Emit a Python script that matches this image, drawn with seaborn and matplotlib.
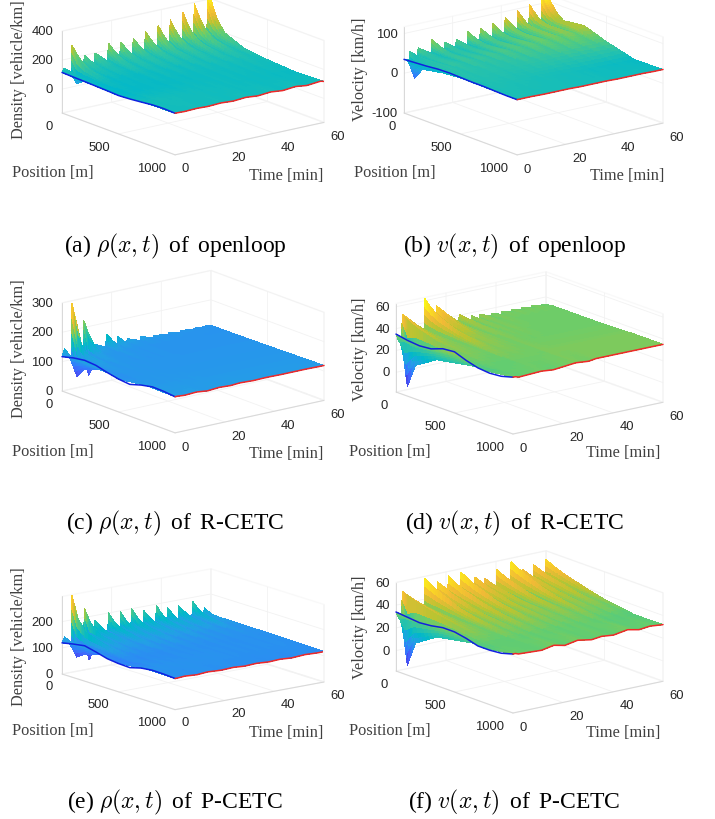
"""Six traffic surfaces: density and velocity under openloop, R-CETC and P-CETC."""

import matplotlib.pyplot as plt
import numpy as np
import seaborn as sns
from mpl_toolkits.mplot3d import proj3d

POS_ROWS = [0, 50, 120, 300, 500, 750, 1000]
BLUE_POS = [0, 100, 200, 300, 400, 500, 600, 700, 800, 900, 1000]
POS_TICKS = [0, 500, 1000]
TIME_TICKS = [0, 20, 40, 60]

# parula anchors
PARULA = ["#3e26a8", "#4741e5", "#4560fc", "#2f81fa", "#23a0e5", "#01b8ca", "#2cc3a7",
          "#64cd6f", "#b9c431", "#f0ba36", "#fad724", "#f9fb15"]

# panel (a)
t_a = [0, 1, 3.7, 4, 8.6, 9, 13, 13.3, 18.3, 18.7, 23.2, 23.6, 28.3, 28.7, 33.2, 33.6, 38.3, 38.7, 43.2, 43.6, 48.3, 48.7, 52.9, 53.3, 58.3, 58.7, 60]
rho_open = [
    [115, 141, 90, 289, 125, 200, 125, 199, 125, 247, 128, 235, 130, 244, 132, 274, 135, 295, 138, 315, 140, 350, 145, 389, 150, 414, 395],
    [114, 131, 40, 219, 120, 166, 120, 165, 120, 194, 122, 187, 124, 193, 126, 211, 128, 223, 130, 235, 132, 256, 135, 279, 140, 294, 283],
    [110, 120, 75, 164, 115, 140, 116, 140, 118, 155, 120, 152, 122, 155, 124, 165, 126, 172, 128, 178, 130, 190, 132, 203, 135, 211, 200],
    [107, 106, 100, 119, 106, 113, 108, 116, 109, 124, 112, 127, 114, 131, 116, 134, 118, 138, 120, 141, 122, 146, 124, 151, 126, 155, 140],
    [100, 103, 100, 108, 105, 108, 107, 110, 107, 113, 110, 115, 112, 117, 113, 119, 115, 121, 116, 123, 117, 125, 119, 127, 121, 129, 123],
    [118, 124, 122, 126, 122, 124, 121, 123, 119, 122, 118, 121, 117, 120, 116, 119, 115, 118, 114, 117, 113, 116, 112, 115, 111, 114, 110],
    [122, 122, 120, 120, 123, 123, 120, 120, 124, 124, 119, 119, 125, 125, 118, 118, 125, 125, 117, 117, 125, 125, 116, 116, 124, 124, 118],
]
blue_a = [115, 112, 110, 107, 104, 100, 105, 113, 122, 125, 122]

# panel (b)
t_b = [0, 1, 2, 2.3, 5.5, 5.8, 11.2, 11.5, 16.4, 16.7, 21.2, 21.5, 26, 26.3, 31.1, 31.4, 36.3, 36.6, 41.3, 41.6, 46.5, 46.8, 51.3, 51.6, 56.5, 56.8, 60]
vel_open = [
    [35, 34, 25, 52, 36, 56, 36, 70, 36, 56, 36, 57, 37, 69, 38, 72, 40, 76, 42, 86, 45, 95, 48, 104, 52, 117, 105],
    [36, 36, -10, 47, 36, 50, 36, 59, 36, 49, 36, 50, 37, 58, 38, 60, 39, 62, 41, 69, 43, 75, 45, 81, 48, 90, 82],
    [39, 39, 20, 44, 38, 45, 38, 49, 38, 46, 38, 47, 39, 51, 40, 53, 41, 56, 43, 62, 45, 67, 47, 71, 50, 74, 65],
    [43, 43, 30, 46, 42, 47, 42, 49, 43, 49, 44, 51, 45, 54, 46, 56, 48, 59, 50, 62, 52, 65, 54, 68, 57, 73, 72],
    [41, 41, 35, 43, 41, 43, 42, 44, 42, 44, 43, 45, 44, 47, 45, 48, 46, 49, 47, 51, 48, 52, 49, 53, 50, 54, 52],
    [40, 40, 38, 40, 40, 40, 39, 40, 39, 39, 38, 39, 38, 38, 37, 38, 36, 37, 35, 36, 35, 35, 34, 35, 34, 34, 33],
    [39, 39, 39, 39, 39, 39, 38, 38, 38, 38, 38, 38, 37, 37, 37, 37, 37, 37, 36, 36, 36, 36, 36, 36, 35, 35, 35],
]
blue_b = [35, 37, 39, 42, 43, 42, 41, 41, 40, 39, 39]

# panel (c)
t_c = [0, 1, 3.7, 4, 8.5, 8.8, 13, 13.3, 17.6, 17.9, 22.2, 22.5, 26, 26.3, 31.4, 31.7, 36.7, 37, 42.7, 43, 47.7, 48, 52.7, 53, 57.7, 58, 60]
rho_r = [
    [117, 143, 100, 292, 120, 223, 118, 135, 116, 160, 115, 144, 115, 130, 114, 127, 114, 122, 113, 120, 113, 118, 113, 116, 113, 115, 112],
    [122, 125, 50, 190, 45, 160, 118, 125, 115, 135, 114, 125, 115, 120, 114, 118, 114, 116, 114, 115, 114, 114, 114, 114, 113, 113, 113],
    [128, 118, 85, 135, 112, 125, 116, 117, 114, 120, 114, 116, 114, 115, 114, 114, 114, 114, 114, 114, 114, 114, 113, 113, 113, 113, 113],
    [130, 116, 108, 120, 114, 118, 115, 116, 114, 116, 114, 115, 114, 115, 114, 114, 114, 114, 114, 114, 114, 114, 114, 114, 114, 114, 114],
    [112, 113, 112, 115, 115, 116, 115, 116, 115, 115, 115, 115, 115, 115, 115, 115, 115, 115, 115, 115, 115, 115, 115, 115, 115, 115, 115],
    [125, 120, 119, 118, 117, 118, 117, 118, 117, 118, 117, 117, 117, 117, 117, 117, 117, 117, 117, 117, 117, 117, 117, 117, 117, 117, 117],
    [123, 123, 121, 121, 123, 123, 119, 119, 122, 122, 120, 120, 122, 122, 120, 120, 121, 121, 120, 120, 120, 120, 120, 120, 119, 119, 119],
]
blue_c = [117, 127, 133, 130, 120, 112, 108, 120, 128, 127, 123]

# panel (d)
t_d = [0, 1, 2.2, 2.5, 11.2, 11.5, 15.9, 16.2, 25, 25.3, 30, 30.3, 33.3, 33.6, 38, 38.3, 42, 42.3, 46, 46.3, 50, 50.3, 54, 54.3, 58, 58.3, 60]
vel_r = [
    [35, 28, 27, 52, 33, 62, 34, 53, 33, 41, 33, 37, 33, 37, 33, 35, 33, 35, 33, 35, 33, 35, 33, 35, 33, 34, 33],
    [34, 30, -12, 48, 33, 56, 34, 49, 33, 40, 33, 37, 33, 37, 33, 35, 34, 35, 34, 35, 34, 35, 34, 35, 34, 34, 34],
    [33, 28, 10, 44, 33, 50, 34, 44, 33, 38, 33, 36, 34, 35, 34, 35, 34, 34, 34, 34, 34, 34, 34, 34, 34, 34, 34],
    [33, 30, 22, 38, 34, 42, 36, 38, 34, 36, 34, 35, 34, 35, 34, 34, 34, 34, 34, 34, 34, 34, 34, 34, 34, 34, 34],
    [38, 33, 26, 36, 34, 37, 35, 36, 34, 35, 34, 34, 34, 34, 34, 34, 34, 34, 34, 34, 34, 34, 34, 34, 34, 34, 34],
    [31, 31, 31, 33, 33, 34, 34, 34, 34, 35, 35, 35, 35, 35, 35, 35, 35, 35, 35, 35, 35, 35, 35, 35, 35, 35, 35],
    [34, 34, 33, 33, 34, 34, 33, 33, 35, 35, 34, 34, 35, 35, 35, 35, 35, 35, 35, 35, 35, 35, 35, 35, 35, 35, 35],
]
blue_d = [35, 33, 32, 33, 37, 38, 34, 31, 30, 31, 34]

# panel (e)
t_e = [0, 1, 3.7, 4, 8.7, 9, 13, 13.3, 18.4, 18.7, 23.3, 23.6, 27.7, 28, 32.7, 33, 37.7, 38, 42.2, 42.5, 46.7, 47, 52.3, 52.6, 57, 57.3, 60]
rho_p = [
    [119, 140, 100, 292, 120, 235, 120, 182, 120, 201, 120, 196, 120, 201, 120, 183, 120, 196, 120, 179, 120, 177, 120, 186, 118, 154, 118],
    [124, 130, 65, 215, 45, 190, 122, 160, 122, 172, 122, 165, 122, 170, 122, 160, 122, 165, 122, 155, 120, 155, 120, 160, 120, 138, 120],
    [130, 130, 85, 170, 125, 155, 124, 148, 124, 155, 124, 150, 124, 153, 124, 147, 124, 150, 123, 145, 123, 145, 122, 148, 121, 133, 122],
    [125, 122, 108, 140, 120, 132, 120, 130, 120, 133, 120, 132, 120, 133, 120, 129, 120, 131, 120, 127, 120, 127, 120, 128, 120, 124, 121],
    [108, 110, 106, 118, 114, 118, 116, 118, 116, 120, 118, 120, 118, 121, 118, 120, 118, 121, 118, 120, 118, 120, 119, 121, 119, 120, 120],
    [121, 121, 120, 122, 120, 122, 120, 121, 120, 121, 120, 121, 120, 121, 119, 120, 119, 120, 119, 120, 119, 120, 119, 120, 119, 119, 119],
    [119, 119, 121, 121, 118, 118, 121, 121, 118, 118, 120, 120, 117, 117, 119, 119, 116, 116, 118, 118, 115, 115, 118, 118, 116, 116, 116],
]
blue_e = [119, 128, 135, 125, 113, 108, 106, 118, 123, 122, 119]

# panel (f)
t_f = [0, 1, 2.2, 2.5, 11.2, 11.5, 16.2, 16.5, 20.6, 20.9, 25.7, 26, 31.3, 31.6, 35.3, 35.6, 40, 40.3, 45.7, 46, 50.3, 50.6, 54.7, 55, 59.5, 59.8, 60]
vel_p = [
    [34, 28, 27, 51, 33, 58, 34, 53, 34, 56, 34, 57, 34, 50, 34, 47, 34, 53, 34, 57, 34, 48, 34, 50, 34, 52, 52],
    [34, 30, -12, 49, 33, 55, 34, 51, 34, 53, 34, 54, 34, 48, 34, 45, 34, 50, 34, 54, 34, 46, 34, 48, 34, 50, 50],
    [33, 30, 10, 46, 33, 51, 34, 47, 34, 49, 34, 50, 34, 45, 34, 43, 34, 47, 34, 50, 34, 44, 34, 45, 34, 47, 46],
    [33, 31, 22, 41, 33, 43, 33, 41, 33, 43, 33, 43, 33, 40, 33, 39, 33, 41, 33, 43, 33, 40, 33, 41, 33, 41, 41],
    [35, 34, 26, 37, 33, 38, 33, 37, 33, 38, 33, 38, 33, 37, 33, 36, 33, 37, 33, 38, 33, 36, 33, 36, 33, 36, 35],
    [30, 31, 31, 32, 32, 33, 32, 33, 32, 33, 32, 33, 32, 33, 32, 33, 32, 33, 32, 33, 31, 32, 31, 32, 31, 32, 31],
    [34, 34, 33, 33, 32, 32, 34, 34, 32, 32, 34, 34, 32, 32, 33, 33, 32, 32, 34, 34, 32, 32, 33, 33, 32, 32, 32],
]
blue_f = [34, 33, 32, 33, 35, 35, 33, 30, 30, 31, 34]

sns.set_theme(style="white")
plt.rcParams["font.family"] = "Liberation Sans"
plt.rcParams["mathtext.fontset"] = "cm"
plt.rcParams["axes.unicode_minus"] = False

W, H = 715, 820
fig = plt.figure(figsize=(W / 100, H / 100), dpi=100, facecolor="white")
cmap = sns.blend_palette(PARULA, n_colors=256, as_cmap=True)


def refine(nodes, n):
    # extra mesh nodes on the same straight segments, only so the colour runs smoothly
    nodes = np.asarray(nodes, dtype=float)
    return np.interp(np.linspace(0, len(nodes) - 1, (len(nodes) - 1) * n + 1), np.arange(len(nodes)), nodes)


def place_box(ax, left_x, right_x, left_y, zmin):
    # move the axes so the floor corners land on the wanted pixels
    size = 500.0
    ax.set_position([(left_x - 100) / W, 0.3, size / W, size / H])
    for _ in range(3):
        ax.apply_aspect()
        M = ax.get_proj()
        corner = lambda p: ax.transData.transform(proj3d.proj_transform(*p, M)[:2])
        a = corner((0, 0, zmin))
        b = corner((1000, 60, zmin))
        size *= (right_x - left_x) / (b[0] - a[0])
        pos = ax.get_position()
        x0 = pos.x0 * W + (left_x - a[0])
        y0 = pos.y0 * H + ((H - left_y) - a[1])
        ax.set_position([x0 / W, y0 / H, size / W, size / H])
    ax.apply_aspect()
    M = ax.get_proj()
    a = ax.transData.transform(proj3d.proj_transform(0, 0, zmin, M)[:2])
    pos = ax.get_position()
    ax.set_position([(pos.x0 * W + left_x - a[0]) / W, (pos.y0 * H + H - left_y - a[1]) / H, size / W, size / H])
    ax.apply_aspect()


def draw_panel(times, grid, blue, zlim, clim, zticks, box, elev, aspect):
    ax = fig.add_subplot(projection="3d", proj_type="ortho")
    ax.patch.set_alpha(0)
    ax.computed_zorder = False
    ax.view_init(elev=elev, azim=-37.5)
    ax.set_box_aspect(aspect)
    ax.set_xlim(0, 1000, view_margin=0)
    ax.set_ylim(0, 60, view_margin=0)
    ax.set_zlim(*zlim, view_margin=0)
    place_box(ax, *box, zlim[0])

    grid = np.asarray(grid, dtype=float)
    pos_fine = refine(POS_ROWS, 6)
    time_fine = refine(times, 4)
    by_time = np.array([np.interp(refine(np.arange(len(times)), 4), np.arange(len(times)), row) for row in grid])
    z_fine = np.array([np.interp(refine(np.arange(len(POS_ROWS)), 6), np.arange(len(POS_ROWS)), col) for col in by_time.T]).T
    X, Y = np.meshgrid(pos_fine, time_fine, indexing="ij")
    ax.plot_surface(X, Y, z_fine, cmap=cmap, vmin=clim[0], vmax=clim[1], rcount=X.shape[0], ccount=X.shape[1],
                    linewidth=0, antialiased=False, shade=False, zorder=1)
    ax.plot(BLUE_POS, np.zeros(len(BLUE_POS)), blue, color="#1020e0", lw=1.1, zorder=5)
    ax.plot(np.full(len(times), 1000), times, grid[-1], color="#f02828", lw=1.1, zorder=5)

    ax.set_xticks(POS_TICKS)
    ax.set_yticks(TIME_TICKS)
    ax.set_zticks(zticks)
    ax.set_zticklabels([""] * len(zticks))
    ax.tick_params(labelsize=9.4, colors="#262626", pad=-2)
    ax.zaxis.set_ticks_position("lower")
    for lab in ax.get_xticklabels():
        lab.set_ha("right")
    for lab in ax.get_yticklabels():
        lab.set_ha("left")
    for axis in (ax.xaxis, ax.yaxis, ax.zaxis):
        axis.pane.fill = False
        axis.pane.set_edgecolor("#f3f3f3")
        axis.line.set_color("#d8d8d8")
        axis.line.set_linewidth(0.7)
        axis._axinfo["grid"].update(color="#f2f2f2", linewidth=0.6)
        axis._axinfo["tick"]["inward_factor"] = 0
        axis._axinfo["tick"]["outward_factor"] = 0

    # z tick labels sit level with their ticks, which the 3d axis does not do on its own
    M = ax.get_proj()
    gap = 9 if box[0] < 100 else 6
    for value in zticks:
        px, py = ax.transData.transform(proj3d.proj_transform(0, 0, value, M)[:2])
        fig.text((px - gap) / W, py / H, str(value), ha="right", va="center", fontsize=9.4, color="#262626")
    return ax


def label(x, y, text, **kw):
    fig.text(x / W, 1 - y / H, text, ha="center", va="center", family="Liberation Serif", **kw)


draw_panel(t_a, rho_open, blue_a, (-165, 400), (-160, 414), [0, 200, 400], (62, 324, 114), 16.5, (186, 188, 85.5))
draw_panel(t_b, vel_open, blue_b, (-100, 117), (-41, 117), [-100, 0, 100], (404, 663, 114), 16.5, (186, 184, 90))
draw_panel(t_c, rho_r, blue_c, (0, 300), (22, 300), [0, 100, 200, 300], (62, 324, 392), 16.5, (186, 188, 92))
draw_panel(t_d, vel_r, blue_d, (-18, 63), (-12, 59), [0, 20, 40, 60], (396, 663, 393), 16, (192, 189, 92))
draw_panel(t_e, rho_p, blue_e, (0, 296), (38, 292), [0, 100, 200], (62, 324, 675), 14, (186, 188, 80))
draw_panel(t_f, vel_p, blue_f, (-18, 60), (-12, 58), [0, 20, 40, 60], (396, 663, 672), 16, (192, 189, 92))

gray = "#404040"
for col_x, z_name, mids in ((19, "Density [vehicle/km]", (70, 349, 637)), (360, "Velocity [km/h]", (69, 349, 627))):
    for zy in mids:
        label(col_x, zy, z_name, rotation=90, fontsize=11.8, color=gray)
for px, py, tx, ty in ((53, 173, 286, 176), (395, 173, 627, 176), (53, 452, 286, 454), (390, 452, 623, 453), (53, 731, 286, 733), (390, 731, 623, 733)):
    label(px, py, "Position [m]", fontsize=11.8, color=gray)
    label(tx, ty, "Time [min]", fontsize=11.8, color=gray)

caps = (
    (175, 246, r"(a) $\rho(x,t)$ $\,$of$\,$ openloop"),
    (515, 246, r"(b) $v(x,t)$ $\,$of$\,$ openloop"),
    (175, 523, r"(c) $\rho(x,t)$ $\,$of$\,$ R-CETC"),
    (514, 523, r"(d) $v(x,t)$ $\,$of$\,$ R-CETC"),
    (175, 802, r"(e) $\rho(x,t)$ $\,$of$\,$ P-CETC"),
    (514, 802, r"(f) $v(x,t)$ $\,$of$\,$ P-CETC"),
)
for cx, cy, text in caps:
    label(cx, cy, text, fontsize=17, color="black")

fig.savefig("out.png", dpi=100)
plt.close(fig)
